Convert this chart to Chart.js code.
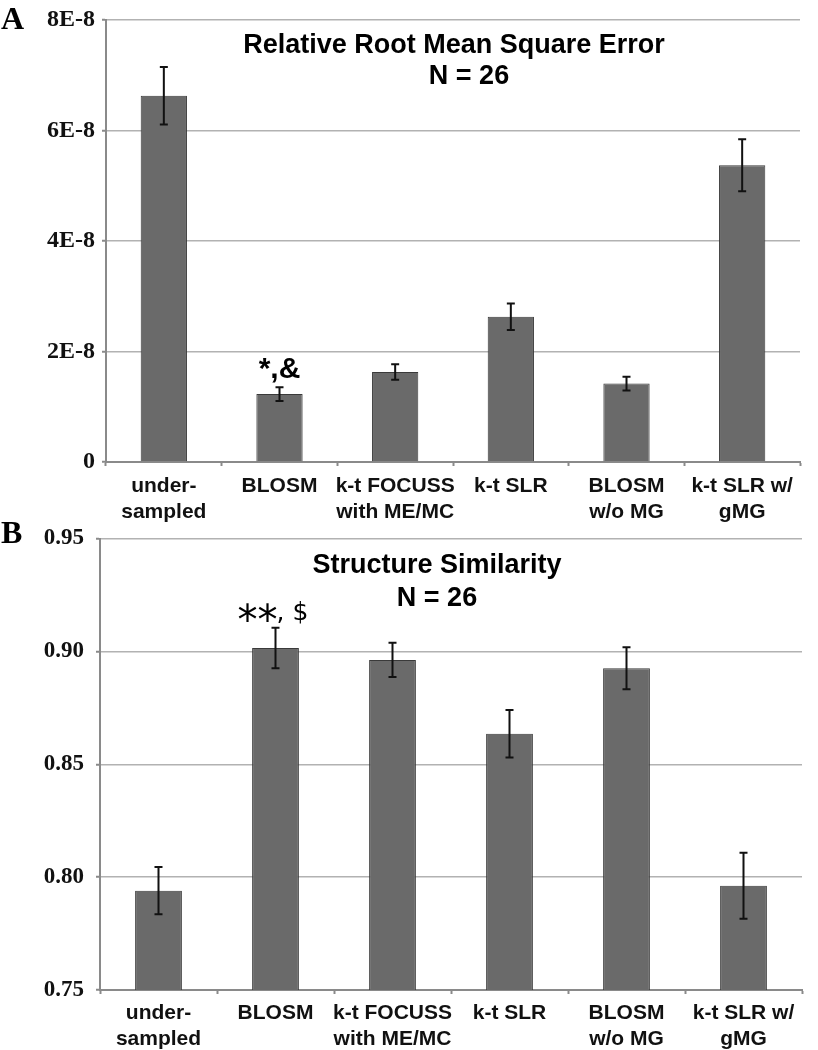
<!DOCTYPE html>
<html>
<head>
<meta charset="utf-8">
<script src="https://cdn.jsdelivr.net/npm/chart.js@4.4.0/dist/chart.umd.min.js"></script>
<style>
  html, body { margin: 0; padding: 0; background: #fff; }
  body { width: 818px; height: 1050px; position: relative; overflow: hidden; }
  canvas { position: absolute; left: 0; }
  #rmseChart { top: 0; }
  #ssimChart { top: 515px; }
</style>
</head>
<body>
<canvas id="rmseChart" width="818" height="530"></canvas>
<canvas id="ssimChart" width="818" height="535"></canvas>
<script>
const categories = [
  ['under-', 'sampled'],
  ['BLOSM'],
  ['k-t FOCUSS', 'with ME/MC'],
  ['k-t SLR'],
  ['BLOSM', 'w/o MG'],
  ['k-t SLR w/', 'gMG'],
];

const rmseValues = [6.63e-8, 1.23e-8, 1.63e-8, 2.63e-8, 1.42e-8, 5.37e-8];
const rmseErrors = [0.52e-8, 0.125e-8, 0.14e-8, 0.24e-8, 0.125e-8, 0.47e-8];
const rmseTicks = [0, 2e-8, 4e-8, 6e-8, 8e-8];
const rmseTickLabels = ['0', '2E-8', '4E-8', '6E-8', '8E-8'];

const ssimValues = [0.794, 0.9015, 0.8962, 0.8635, 0.8925, 0.7962];
const ssimErrors = [0.0105, 0.009, 0.0076, 0.0105, 0.0093, 0.0146];
const ssimTicks = [0.75, 0.8, 0.85, 0.9, 0.95];
const ssimTickLabels = ['0.75', '0.80', '0.85', '0.90', '0.95'];

const sansBold = "'Liberation Sans', Arial, sans-serif";
const serif = "'Liberation Serif', 'Times New Roman', serif";
const axisGray = '#8a8a8a';

// error bars drawn from each dataset's `errors` array
const errorBars = {
  id: 'errorBars',
  afterDatasetsDraw(chart) {
    const ds = chart.data.datasets[0];
    const meta = chart.getDatasetMeta(0);
    const y = chart.scales.y;
    const ctx = chart.ctx;
    ctx.save();
    ctx.strokeStyle = '#111';
    ctx.lineWidth = 2;
    meta.data.forEach((bar, i) => {
      const top = y.getPixelForValue(ds.data[i] + ds.errors[i]);
      const bot = y.getPixelForValue(ds.data[i] - ds.errors[i]);
      ctx.beginPath();
      ctx.moveTo(bar.x, top);
      ctx.lineTo(bar.x, bot);
      ctx.moveTo(bar.x - 4, top);
      ctx.lineTo(bar.x + 4, top);
      ctx.moveTo(bar.x - 4, bot);
      ctx.lineTo(bar.x + 4, bot);
      ctx.stroke();
    });
    ctx.restore();
  },
};

function textPlugin(panel, titleLines, note) {
  return {
    id: 'chartText',
    afterDraw(chart) {
      const ctx = chart.ctx;
      ctx.save();
      ctx.fillStyle = '#000';
      ctx.textBaseline = 'alphabetic';

      ctx.textAlign = 'left';
      ctx.font = `bold 32px ${serif}`;
      ctx.fillText(panel.text, panel.x, panel.y);

      ctx.textAlign = 'center';
      ctx.font = `bold 27px ${sansBold}`;
      titleLines.forEach((l) => ctx.fillText(l.text, l.x, l.y));

      note(chart, ctx);
      ctx.restore();
    },
  };
}

function barChart(id, opts) {
  return new Chart(document.getElementById(id), {
    type: 'bar',
    data: {
      labels: categories,
      datasets: [
        {
          data: opts.values,
          errors: opts.errors,
          backgroundColor: '#6a6a6a',
          borderColor: '#3a3a3a',
          borderWidth: 1,
          categoryPercentage: 1,
          barPercentage: 0.4,
        },
      ],
    },
    plugins: [errorBars, opts.text],
    options: {
      responsive: false,
      animation: false,
      devicePixelRatio: 1,
      layout: { padding: opts.padding },
      plugins: {
        legend: { display: false },
        tooltip: { enabled: false },
      },
      scales: {
        x: {
          grid: {
            drawOnChartArea: false,
            tickLength: 4,
            tickColor: axisGray,
            tickWidth: 2,
          },
          border: { color: axisGray, width: 2 },
          ticks: {
            color: '#111',
            font: { family: sansBold, weight: 'bold', size: 21, lineHeight: 1.2 },
            padding: opts.xPad,
            maxRotation: 0,
            autoSkip: false,
          },
          afterFit: (s) => { s.height = opts.xHeight; },
        },
        y: {
          min: opts.ticks[0],
          max: opts.ticks[opts.ticks.length - 1],
          afterBuildTicks: (s) => { s.ticks = opts.ticks.map((v) => ({ value: v })); },
          grid: {
            color: '#b2b2b2',
            lineWidth: 1.5,
            tickLength: 4,
            tickColor: axisGray,
            tickWidth: 2,
          },
          border: { color: axisGray, width: 2 },
          ticks: {
            color: '#111',
            font: { family: serif, weight: 'bold', size: opts.ySize, lineHeight: 1 },
            padding: opts.yPad,
            callback: (v, i) => opts.tickLabels[i],
          },
          afterFit: (s) => { s.width = opts.yWidth; },
        },
      },
    },
  });
}

barChart('rmseChart', {
  values: rmseValues,
  errors: rmseErrors,
  ticks: rmseTicks,
  tickLabels: rmseTickLabels,
  padding: { top: 20, right: 18, left: 0, bottom: 0 },
  yWidth: 106,
  xHeight: 68,
  xPad: 8,
  yPad: 7,
  ySize: 24,
  text: textPlugin(
    { text: 'A', x: 1, y: 29 },
    [
      { text: 'Relative Root Mean Square Error', x: 454, y: 53 },
      { text: 'N = 26', x: 469, y: 84 },
    ],
    (chart, ctx) => {
      const bar = chart.getDatasetMeta(0).data[1];
      const top = chart.scales.y.getPixelForValue(rmseValues[1] + rmseErrors[1]);
      ctx.font = `bold 30px ${sansBold}`;
      ctx.textAlign = 'center';
      ctx.fillText('*,&', bar.x, top - 9);
    }
  ),
});

barChart('ssimChart', {
  values: ssimValues,
  errors: ssimErrors,
  ticks: ssimTicks,
  tickLabels: ssimTickLabels,
  padding: { top: 20, right: 16, left: 0, bottom: 0 },
  yWidth: 100,
  xHeight: 60,
  xPad: 7,
  yPad: 12,
  ySize: 23,
  text: textPlugin(
    { text: 'B', x: 1, y: 28 },
    [
      { text: 'Structure Similarity', x: 437, y: 58 },
      { text: 'N = 26', x: 437, y: 91 },
    ],
    (chart, ctx) => {
      const bar = chart.getDatasetMeta(0).data[1];
      const top = chart.scales.y.getPixelForValue(ssimValues[1] + ssimErrors[1]);
      ctx.textAlign = 'left';
      ctx.font = `40px 'DejaVu Sans', sans-serif`;
      ctx.fillText('**', bar.x - 38, top + 6);
      ctx.font = `25px 'DejaVu Sans', sans-serif`;
      ctx.fillText(', $', bar.x + 1, top - 8);
    }
  ),
});
</script>
</body>
</html>
